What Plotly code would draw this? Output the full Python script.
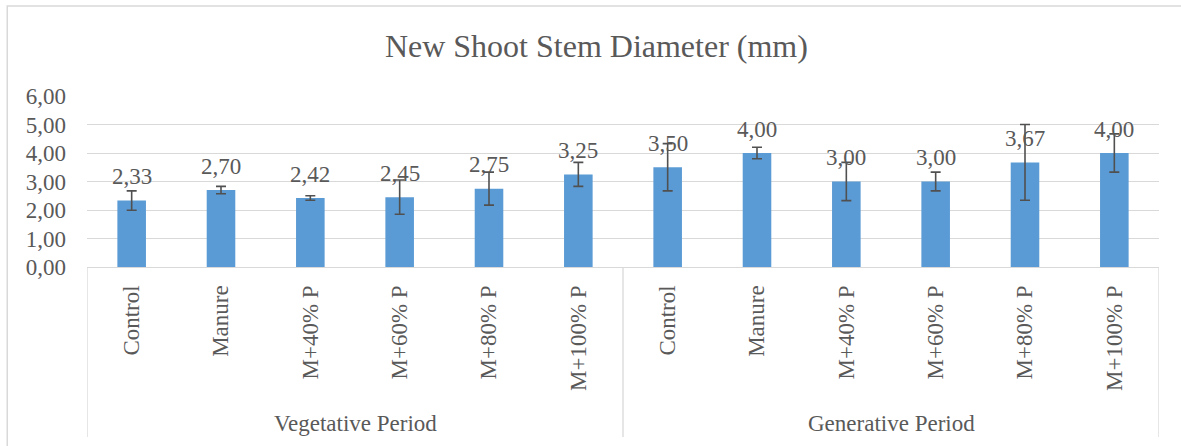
import plotly.graph_objects as go

title_text = "New Shoot Stem Diameter (mm)"
groups = ["Vegetative Period", "Generative Period"]
treatments = ["Control", "Manure", "M+40% P", "M+60% P", "M+80% P", "M+100% P"]
means = [2.33, 2.70, 2.42, 2.45, 2.75, 3.25, 3.50, 4.00, 3.00, 3.00, 3.67, 4.00]
errors = [0.34, 0.13, 0.08, 0.60, 0.58, 0.42, 0.83, 0.20, 0.67, 0.33, 1.33, 0.67]
y_ticks = [0, 1, 2, 3, 4, 5, 6]

GRAY = "#595959"
LINE = "#D9D9D9"
FONT = "Liberation Serif, Times New Roman, serif"

categories = treatments * len(groups)
xs = list(range(len(categories)))

fig = go.Figure()
fig.add_trace(go.Bar(
    x=xs, y=means,
    marker=dict(color="#5B9BD5", line=dict(width=0)),
    width=0.32,
    error_y=dict(type="data", array=errors, visible=True,
                 color="#505050", thickness=1.6, width=5),
    hoverinfo="y",
))

annotations = []
for x, v in zip(xs, means):
    annotations.append(dict(
        x=x, y=v, xref="x", yref="y",
        text=f"{v:.2f}".replace(".", ","),
        showarrow=False, yanchor="middle", yshift=24,
        font=dict(family=FONT, size=23, color=GRAY),
    ))

n = len(treatments)
shapes = []
for gi, g in enumerate(groups):
    center = gi * n + (n - 1) / 2
    annotations.append(dict(
        x=center, y=-0.915, xref="x", yref="paper",
        text=g, showarrow=False, yanchor="middle",
        font=dict(family=FONT, size=23, color=GRAY),
    ))
for b in range(len(groups) + 1):
    shapes.append(dict(
        type="line", xref="x", yref="paper",
        x0=b * n - 0.5, x1=b * n - 0.5, y0=0, y1=-0.994,
        line=dict(color=LINE, width=1.3),
    ))
# outer chart border
shapes.append(dict(
    type="rect", xref="paper", yref="paper",
    x0=-0.0744, x1=1.03, y0=-1.08, y1=1.526,
    line=dict(color=LINE, width=1.5), fillcolor="rgba(0,0,0,0)",
))

fig.update_layout(
    width=1181, height=446,
    margin=dict(l=87, r=22, t=96, b=179, autoexpand=False),
    paper_bgcolor="white", plot_bgcolor="white",
    separators=", ",
    showlegend=False,
    title=dict(text=title_text, x=0.505, xref="container", xanchor="center",
               y=1 - 46 / 446, yref="container", yanchor="middle",
               font=dict(family=FONT, size=32, color=GRAY)),
    xaxis=dict(
        range=[-0.5, len(categories) - 0.5],
        tickmode="array", tickvals=xs, ticktext=categories,
        tickangle=-90, ticks="", ticklabelstandoff=8,
        tickfont=dict(family=FONT, size=23, color=GRAY),
        showgrid=False, zeroline=False,
        showline=True, linecolor=LINE, linewidth=1.3,
        fixedrange=True,
    ),
    yaxis=dict(
        range=[0, 6], tickmode="array", tickvals=y_ticks,
        tickformat=".2f",
        tickfont=dict(family=FONT, size=23, color=GRAY),
        ticks="", ticklabelstandoff=20,
        showgrid=True, gridcolor=LINE, gridwidth=1.3,
        zeroline=False, showline=False,
        fixedrange=True,
    ),
    annotations=annotations,
    shapes=shapes,
)

fig.write_html("out.html",
               config={"displayModeBar": False},
               post_script="document.body.style.margin='0';document.body.style.overflow='hidden';")
